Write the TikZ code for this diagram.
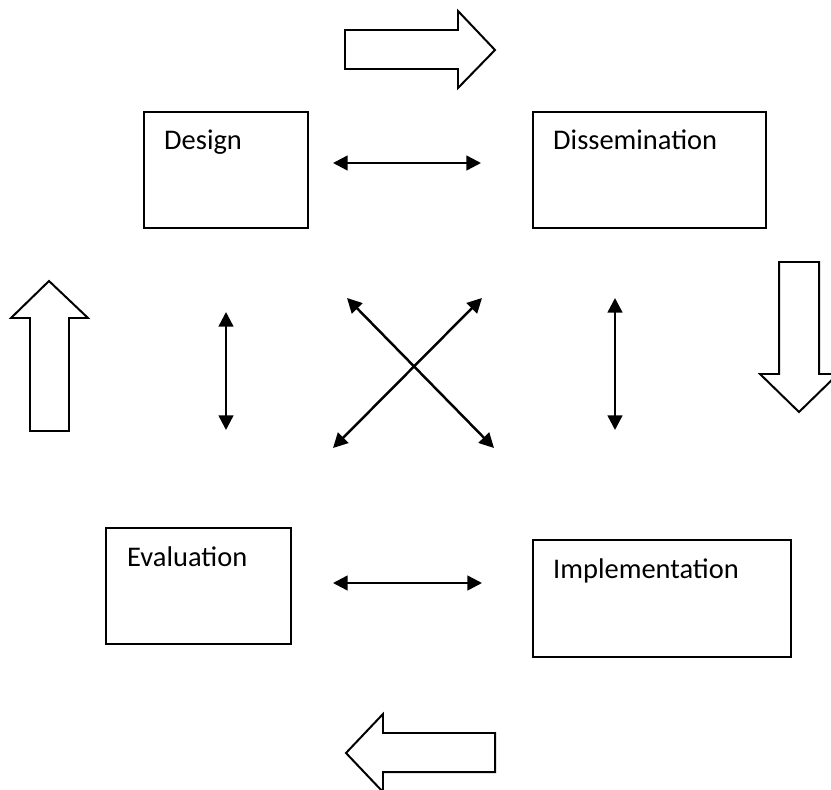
\documentclass[tikz,border=0pt]{standalone}
\usepackage{fontspec}
\setmainfont{Carlito}
\usetikzlibrary{arrows.meta}

\tikzset{
    stagebox/.style={draw, line width=1.7pt, inner sep=0pt, anchor=north west},
    stagetext/.style={anchor=base west, inner sep=0pt, font=\fontsize{24.3}{29}\selectfont},
    link/.style={line width=2.1pt, {Triangle[length=12.5pt,width=12.5pt]}-{Triangle[length=12.5pt,width=12.5pt]}},
    flow/.style={draw, line width=1.7pt, line join=miter, fill=white}
}

\begin{document}
\begin{tikzpicture}[x=0.03cm, y=-0.03cm]
        \clip (0,0) rectangle (831,790);

        \node[stagebox, minimum width=4.92cm, minimum height=3.48cm] (design) at (143,111) {};
        \node[stagebox, minimum width=6.99cm, minimum height=3.48cm] (dissem) at (532,111) {};
        \node[stagebox, minimum width=5.55cm, minimum height=3.48cm] (eval) at (105,527) {};
        \node[stagebox, minimum width=7.74cm, minimum height=3.51cm] (impl) at (532,539) {};

        \node[stagetext] (design-t) at (164,150) {Design};
        \node[stagetext] (dissem-t) at (553,150) {Dissemination};
        \node[stagetext] (eval-t) at (127,566) {Evaluation};
        \node[stagetext] (impl-t) at (553,578) {Implementation};

        \coordinate (top-l) at (333,163);
        \coordinate (top-r) at (481,163);
        \coordinate (bot-l) at (333,583);
        \coordinate (bot-r) at (482,583);
        \coordinate (left-t) at (226,312);
        \coordinate (left-b) at (226,430);
        \coordinate (right-t) at (615,298);
        \coordinate (right-b) at (615,430);
        \coordinate (x-tl) at (347,298);
        \coordinate (x-br) at (494,448);
        \coordinate (x-tr) at (482,298);
        \coordinate (x-bl) at (333,448);

        \draw[link] (top-l) -- (top-r);
        \draw[link] (bot-l) -- (bot-r);
        \draw[link] (left-t) -- (left-b);
        \draw[link] (right-t) -- (right-b);
        \draw[link] (x-tl) -- (x-br);
        \draw[link] (x-tr) -- (x-bl);

        \draw[flow] (345,30) -- (458,30) -- (458,11) -- (495,50) -- (458,88) -- (458,69) -- (345,69) -- cycle;
        \draw[flow] (779,262) -- (819,262) -- (819,374) -- (838,374) -- (799,412) -- (760,374) -- (779,374) -- cycle;
        \draw[flow] (346,753) -- (383,714) -- (383,733) -- (495,733) -- (495,772) -- (383,772) -- (383,792) -- cycle;
        \draw[flow] (49,281) -- (88,318) -- (69,318) -- (69,431) -- (30,431) -- (30,318) -- (11,318) -- cycle;
    \end{tikzpicture}
\end{document}
